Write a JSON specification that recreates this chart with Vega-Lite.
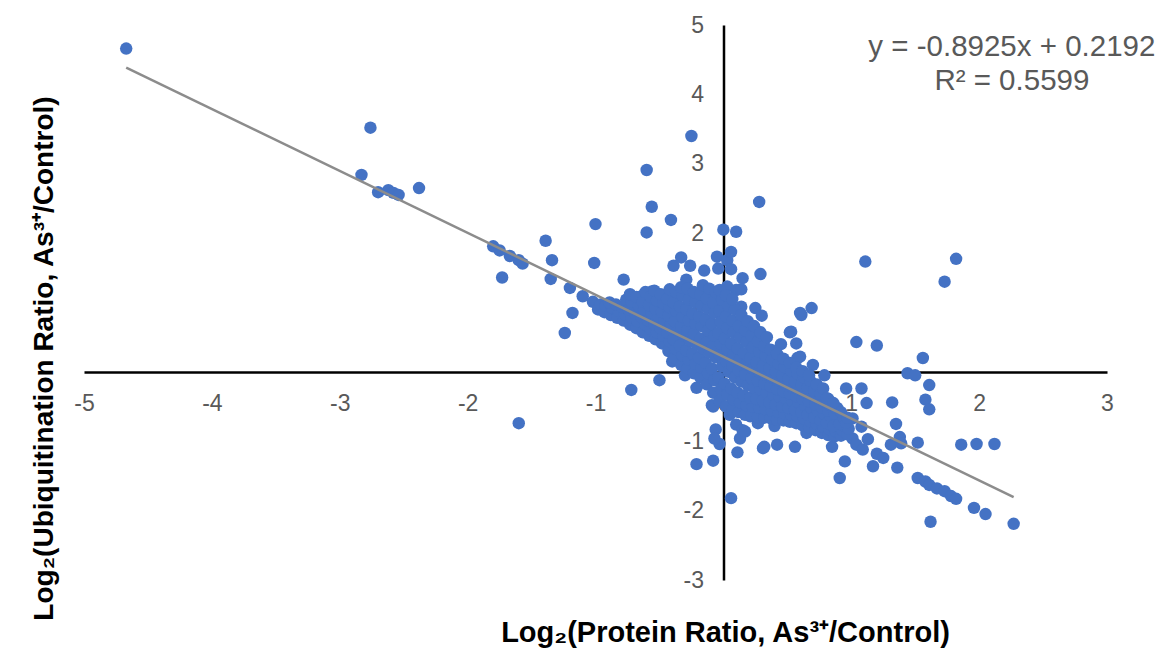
{
  "$schema": "https://vega.github.io/schema/vega-lite/v6.json",
  "width": 1023,
  "height": 555,
  "autosize": {"type": "none"},
  "padding": {"left": 84, "top": 25, "right": 56, "bottom": 76},
  "background": "white",
  "config": {"view": {"stroke": null}, "font": "Liberation Sans"},
  "datasets": {
    "trend": [{"x": -4.67, "y": 4.387}, {"x": 2.27, "y": -1.807}],
    "eq": [{"tx": 2.256, "ty": 4.676, "label": "y = -0.8925x + 0.2192"}, {"tx": 2.256, "ty": 4.19, "label": "R² = 0.5599"}],
    "pts": [
{"x":-4.67,"y":4.66},{"x":-2.76,"y":3.52},{"x":-2.83,"y":2.84},{"x":-2.70,"y":2.59},{"x":-2.62,"y":2.62},{"x":-2.58,"y":2.58},{"x":-2.54,"y":2.55},{"x":-2.38,"y":2.65},{"x":-1.80,"y":1.81},{"x":-1.75,"y":1.75},{"x":-1.67,"y":1.67},{"x":-1.60,"y":1.61},{"x":-1.57,"y":1.56},{"x":-1.73,"y":1.36},{"x":-1.39,"y":1.89},{"x":-1.34,"y":1.61},{"x":-1.35,"y":1.34},{"x":-1.00,"y":2.13},{"x":-1.01,"y":1.57},{"x":-1.20,"y":1.21},{"x":-1.18,"y":0.85},{"x":-1.24,"y":0.56},{"x":-1.10,"y":1.09},{"x":-1.02,"y":1.01},{"x":-0.97,"y":0.94},{"x":-0.90,"y":0.89},{"x":-0.84,"y":0.82},{"x":-0.78,"y":1.33},{"x":-0.60,"y":2.01},{"x":-0.56,"y":2.38},{"x":-0.41,"y":2.19},{"x":-0.39,"y":1.53},{"x":-0.64,"y":1.09},{"x":-0.56,"y":1.13},{"x":-0.50,"y":0.87},{"x":-0.72,"y":-0.26},{"x":-0.50,"y":-0.12},{"x":-1.60,"y":-0.74},{"x":-0.40,"y":0.15},{"x":-0.60,"y":2.91},{"x":-0.25,"y":3.40},{"x":0.00,"y":2.05},{"x":0.10,"y":2.02},{"x":-0.33,"y":1.65},{"x":-0.26,"y":1.53},{"x":-0.15,"y":1.46},{"x":-0.05,"y":1.66},{"x":0.03,"y":1.61},{"x":-0.04,"y":1.49},{"x":-0.29,"y":1.33},{"x":-0.56,"y":1.16},{"x":-0.37,"y":1.06},{"x":-0.21,"y":1.11},{"x":0.03,"y":1.23},{"x":0.10,"y":1.18},{"x":0.28,"y":2.45},{"x":0.06,"y":1.73},{"x":0.06,"y":1.48},{"x":0.15,"y":1.35},{"x":0.29,"y":1.41},{"x":0.14,"y":1.19},{"x":0.14,"y":0.94},{"x":0.25,"y":0.92},{"x":0.30,"y":0.81},{"x":0.61,"y":0.82},{"x":0.69,"y":0.92},{"x":0.60,"y":0.85},{"x":1.11,"y":1.59},{"x":0.52,"y":0.57},{"x":0.57,"y":0.41},{"x":0.58,"y":0.20},{"x":1.04,"y":0.43},{"x":0.79,"y":-0.05},{"x":0.96,"y":-0.24},{"x":1.08,"y":-0.24},{"x":0.82,"y":-0.39},{"x":0.89,"y":-0.52},{"x":1.01,"y":-0.67},{"x":1.08,"y":-0.79},{"x":0.10,"y":-0.76},{"x":0.15,"y":-0.84},{"x":0.27,"y":-0.74},{"x":0.32,"y":-1.08},{"x":0.42,"y":-1.05},{"x":0.56,"y":-1.08},{"x":0.85,"y":-1.08},{"x":1.01,"y":-0.96},{"x":1.82,"y":1.63},{"x":1.73,"y":1.30},{"x":1.20,"y":0.38},{"x":1.56,"y":0.20},{"x":1.44,"y":-0.02},{"x":1.50,"y":-0.05},{"x":1.61,"y":-0.19},{"x":1.12,"y":-0.45},{"x":1.32,"y":-0.44},{"x":1.58,"y":-0.40},{"x":1.61,"y":-0.54},{"x":-0.06,"y":-0.83},{"x":-0.03,"y":-1.04},{"x":-0.08,"y":-1.28},{"x":-0.21,"y":-1.33},{"x":0.06,"y":-1.82},{"x":0.11,"y":-1.16},{"x":0.13,"y":-0.96},{"x":0.17,"y":-0.86},{"x":0.31,"y":-1.10},{"x":0.95,"y":-1.29},{"x":0.91,"y":-1.53},{"x":1.04,"y":-1.05},{"x":1.09,"y":-1.12},{"x":1.13,"y":-0.97},{"x":1.20,"y":-1.18},{"x":1.25,"y":-1.24},{"x":1.17,"y":-1.36},{"x":1.36,"y":-1.38},{"x":1.31,"y":-1.05},{"x":1.38,"y":-0.94},{"x":1.39,"y":-1.03},{"x":1.52,"y":-1.02},{"x":1.35,"y":-0.75},{"x":1.52,"y":-1.53},{"x":1.58,"y":-1.58},{"x":1.61,"y":-1.63},{"x":1.67,"y":-1.68},{"x":1.73,"y":-1.72},{"x":1.78,"y":-1.79},{"x":1.82,"y":-1.83},{"x":1.62,"y":-2.16},{"x":1.96,"y":-1.96},{"x":2.05,"y":-2.05},{"x":2.27,"y":-2.19},{"x":1.86,"y":-1.05},{"x":1.98,"y":-1.04},{"x":2.12,"y":-1.04},{"x":-0.09,"y":-0.48},{"x":0.53,"y":0.58},{"x":0.32,"y":0.46},{"x":0.18,"y":0.58},{"x":-0.55,"y":1.11},{"x":-0.39,"y":1.09},{"x":-0.08,"y":-0.50},{"x":-0.07,"y":-0.96},{"x":-0.39,"y":0.17},{"x":-0.21,"y":-0.23},{"x":0.21,"y":-0.64},{"x":0.60,"y":0.22},{"x":0.45,"y":0.40},{"x":-0.30,"y":-0.05},{"x":0.40,"y":-0.78},{"x":0.65,"y":-0.88},{"x":0.05,"y":-0.62},{"x":0.70,"y":0.10},
{"x":-0.98,"y":0.90},{"x":-0.96,"y":0.97},
{"x":-0.93,"y":0.86},{"x":-0.92,"y":0.95},
{"x":-0.88,"y":0.82},{"x":-0.87,"y":0.92},{"x":-0.89,"y":1.00},
{"x":-0.83,"y":0.78},{"x":-0.82,"y":0.88},{"x":-0.84,"y":0.97},
{"x":-0.78,"y":0.74},{"x":-0.77,"y":0.83},{"x":-0.79,"y":0.93},{"x":-0.76,"y":1.04},
{"x":-0.73,"y":0.68},{"x":-0.72,"y":0.79},{"x":-0.74,"y":0.90},{"x":-0.72,"y":1.01},{"x":-0.73,"y":1.12},
{"x":-0.68,"y":0.63},{"x":-0.67,"y":0.73},{"x":-0.69,"y":0.84},{"x":-0.66,"y":0.95},{"x":-0.68,"y":1.08},
{"x":-0.63,"y":0.57},{"x":-0.61,"y":0.68},{"x":-0.64,"y":0.79},{"x":-0.62,"y":0.90},{"x":-0.63,"y":1.01},{"x":-0.61,"y":1.15},
{"x":-0.58,"y":0.52},{"x":-0.57,"y":0.62},{"x":-0.59,"y":0.74},{"x":-0.56,"y":0.85},{"x":-0.58,"y":0.96},{"x":-0.57,"y":1.08},
{"x":-0.53,"y":0.47},{"x":-0.52,"y":0.57},{"x":-0.54,"y":0.69},{"x":-0.51,"y":0.80},{"x":-0.53,"y":0.91},{"x":-0.52,"y":1.03},{"x":-0.54,"y":1.17},
{"x":-0.48,"y":0.41},{"x":-0.47,"y":0.52},{"x":-0.49,"y":0.63},{"x":-0.46,"y":0.75},{"x":-0.48,"y":0.86},{"x":-0.47,"y":0.99},{"x":-0.49,"y":1.12},
{"x":-0.43,"y":0.30},{"x":-0.42,"y":0.44},{"x":-0.44,"y":0.57},{"x":-0.41,"y":0.70},{"x":-0.43,"y":0.81},{"x":-0.42,"y":0.93},{"x":-0.44,"y":1.05},{"x":-0.42,"y":1.19},
{"x":-0.38,"y":0.20},{"x":-0.37,"y":0.33},{"x":-0.39,"y":0.47},{"x":-0.36,"y":0.60},{"x":-0.38,"y":0.73},{"x":-0.37,"y":0.88},{"x":-0.39,"y":1.00},{"x":-0.37,"y":1.15},
{"x":-0.33,"y":0.10},{"x":-0.32,"y":0.24},{"x":-0.34,"y":0.38},{"x":-0.31,"y":0.52},{"x":-0.33,"y":0.66},{"x":-0.32,"y":0.79},{"x":-0.34,"y":0.94},{"x":-0.32,"y":1.10},{"x":-0.33,"y":1.22},
{"x":-0.28,"y":0.05},{"x":-0.27,"y":0.18},{"x":-0.29,"y":0.31},{"x":-0.26,"y":0.45},{"x":-0.28,"y":0.60},{"x":-0.27,"y":0.74},{"x":-0.29,"y":0.90},{"x":-0.27,"y":1.04},{"x":-0.28,"y":1.20},
{"x":-0.23,"y":-0.02},{"x":-0.22,"y":0.12},{"x":-0.24,"y":0.26},{"x":-0.21,"y":0.40},{"x":-0.23,"y":0.55},{"x":-0.22,"y":0.70},{"x":-0.24,"y":0.84},{"x":-0.22,"y":1.00},{"x":-0.23,"y":1.15},
{"x":-0.18,"y":-0.08},{"x":-0.17,"y":0.06},{"x":-0.19,"y":0.20},{"x":-0.16,"y":0.34},{"x":-0.18,"y":0.48},{"x":-0.17,"y":0.66},{"x":-0.19,"y":0.80},{"x":-0.17,"y":0.95},{"x":-0.18,"y":1.12},{"x":-0.16,"y":1.25},
{"x":-0.13,"y":-0.18},{"x":-0.12,"y":-0.02},{"x":-0.14,"y":0.13},{"x":-0.11,"y":0.28},{"x":-0.13,"y":0.43},{"x":-0.12,"y":0.59},{"x":-0.14,"y":0.75},{"x":-0.12,"y":0.91},{"x":-0.13,"y":1.06},{"x":-0.11,"y":1.20},
{"x":-0.08,"y":-0.30},{"x":-0.07,"y":-0.12},{"x":-0.09,"y":0.05},{"x":-0.06,"y":0.21},{"x":-0.08,"y":0.37},{"x":-0.07,"y":0.52},{"x":-0.09,"y":0.69},{"x":-0.07,"y":0.85},{"x":-0.08,"y":1.00},{"x":-0.06,"y":1.15},
{"x":-0.03,"y":-0.42},{"x":-0.02,"y":-0.25},{"x":-0.04,"y":-0.08},{"x":-0.01,"y":0.08},{"x":-0.03,"y":0.25},{"x":-0.02,"y":0.40},{"x":-0.04,"y":0.56},{"x":-0.02,"y":0.72},{"x":-0.03,"y":0.88},{"x":-0.01,"y":1.04},{"x":-0.03,"y":1.18},
{"x":0.02,"y":-0.50},{"x":0.03,"y":-0.33},{"x":0.01,"y":-0.17},{"x":0.04,"y":0.00},{"x":0.02,"y":0.16},{"x":0.03,"y":0.33},{"x":0.01,"y":0.48},{"x":0.03,"y":0.63},{"x":0.02,"y":0.80},{"x":0.04,"y":0.95},{"x":0.02,"y":1.10},
{"x":0.07,"y":-0.55},{"x":0.08,"y":-0.40},{"x":0.06,"y":-0.24},{"x":0.09,"y":-0.08},{"x":0.07,"y":0.09},{"x":0.08,"y":0.25},{"x":0.06,"y":0.41},{"x":0.08,"y":0.57},{"x":0.07,"y":0.74},{"x":0.09,"y":0.90},{"x":0.07,"y":1.05},
{"x":0.12,"y":-0.58},{"x":0.13,"y":-0.44},{"x":0.11,"y":-0.30},{"x":0.14,"y":-0.14},{"x":0.12,"y":0.02},{"x":0.13,"y":0.18},{"x":0.11,"y":0.34},{"x":0.13,"y":0.50},{"x":0.12,"y":0.66},{"x":0.14,"y":0.82},
{"x":0.17,"y":-0.62},{"x":0.18,"y":-0.48},{"x":0.16,"y":-0.34},{"x":0.19,"y":-0.19},{"x":0.17,"y":-0.04},{"x":0.18,"y":0.11},{"x":0.16,"y":0.27},{"x":0.18,"y":0.43},{"x":0.17,"y":0.60},{"x":0.19,"y":0.73},
{"x":0.22,"y":-0.63},{"x":0.23,"y":-0.50},{"x":0.21,"y":-0.37},{"x":0.24,"y":-0.23},{"x":0.22,"y":-0.09},{"x":0.23,"y":0.05},{"x":0.21,"y":0.20},{"x":0.23,"y":0.35},{"x":0.22,"y":0.52},{"x":0.24,"y":0.66},
{"x":0.27,"y":-0.65},{"x":0.28,"y":-0.52},{"x":0.26,"y":-0.39},{"x":0.29,"y":-0.26},{"x":0.27,"y":-0.13},{"x":0.28,"y":0.00},{"x":0.26,"y":0.14},{"x":0.28,"y":0.29},{"x":0.27,"y":0.44},{"x":0.29,"y":0.57},
{"x":0.32,"y":-0.66},{"x":0.33,"y":-0.54},{"x":0.31,"y":-0.42},{"x":0.34,"y":-0.30},{"x":0.32,"y":-0.17},{"x":0.33,"y":-0.04},{"x":0.31,"y":0.09},{"x":0.33,"y":0.23},{"x":0.32,"y":0.37},{"x":0.34,"y":0.50},
{"x":0.37,"y":-0.67},{"x":0.38,"y":-0.56},{"x":0.36,"y":-0.44},{"x":0.39,"y":-0.33},{"x":0.37,"y":-0.21},{"x":0.38,"y":-0.08},{"x":0.36,"y":0.05},{"x":0.38,"y":0.18},{"x":0.37,"y":0.32},
{"x":0.42,"y":-0.69},{"x":0.43,"y":-0.58},{"x":0.41,"y":-0.47},{"x":0.44,"y":-0.36},{"x":0.42,"y":-0.25},{"x":0.43,"y":-0.13},{"x":0.41,"y":0.00},{"x":0.43,"y":0.12},{"x":0.42,"y":0.26},
{"x":0.47,"y":-0.70},{"x":0.48,"y":-0.60},{"x":0.46,"y":-0.50},{"x":0.49,"y":-0.39},{"x":0.47,"y":-0.28},{"x":0.48,"y":-0.17},{"x":0.46,"y":-0.05},{"x":0.48,"y":0.07},{"x":0.47,"y":0.19},
{"x":0.52,"y":-0.72},{"x":0.53,"y":-0.62},{"x":0.51,"y":-0.52},{"x":0.54,"y":-0.42},{"x":0.52,"y":-0.31},{"x":0.53,"y":-0.21},{"x":0.51,"y":-0.10},{"x":0.53,"y":0.02},{"x":0.52,"y":0.13},
{"x":0.57,"y":-0.74},{"x":0.58,"y":-0.64},{"x":0.56,"y":-0.55},{"x":0.59,"y":-0.45},{"x":0.57,"y":-0.35},{"x":0.58,"y":-0.25},{"x":0.56,"y":-0.14},{"x":0.58,"y":-0.03},{"x":0.57,"y":0.06},
{"x":0.62,"y":-0.77},{"x":0.63,"y":-0.67},{"x":0.61,"y":-0.58},{"x":0.64,"y":-0.49},{"x":0.62,"y":-0.39},{"x":0.63,"y":-0.29},{"x":0.61,"y":-0.19},{"x":0.63,"y":-0.08},{"x":0.62,"y":0.01},
{"x":0.67,"y":-0.80},{"x":0.68,"y":-0.71},{"x":0.66,"y":-0.62},{"x":0.69,"y":-0.53},{"x":0.67,"y":-0.43},{"x":0.68,"y":-0.33},{"x":0.66,"y":-0.23},{"x":0.68,"y":-0.13},{"x":0.67,"y":-0.05},
{"x":0.72,"y":-0.84},{"x":0.73,"y":-0.75},{"x":0.71,"y":-0.66},{"x":0.74,"y":-0.57},{"x":0.72,"y":-0.47},{"x":0.73,"y":-0.37},{"x":0.71,"y":-0.27},{"x":0.73,"y":-0.18},
{"x":0.77,"y":-0.88},{"x":0.78,"y":-0.79},{"x":0.76,"y":-0.70},{"x":0.79,"y":-0.61},{"x":0.77,"y":-0.51},{"x":0.78,"y":-0.42},{"x":0.76,"y":-0.32},{"x":0.78,"y":-0.24},
{"x":0.82,"y":-0.91},{"x":0.83,"y":-0.83},{"x":0.81,"y":-0.74},{"x":0.84,"y":-0.65},{"x":0.82,"y":-0.56},{"x":0.83,"y":-0.47},{"x":0.81,"y":-0.38},
{"x":0.87,"y":-0.93},{"x":0.88,"y":-0.86},{"x":0.86,"y":-0.78},{"x":0.89,"y":-0.69},{"x":0.87,"y":-0.60},{"x":0.88,"y":-0.52},{"x":0.86,"y":-0.45},
{"x":0.92,"y":-0.92},{"x":0.93,"y":-0.84},{"x":0.91,"y":-0.75},{"x":0.94,"y":-0.66},{"x":0.92,"y":-0.58},
{"x":0.97,"y":-0.90},{"x":0.98,"y":-0.82},{"x":0.96,"y":-0.73},{"x":0.97,"y":-0.66}
    ]
  },
  "layer": [
    {
      "data": {"name": "pts"},
      "mark": {"type": "point", "filled": true, "size": 155, "color": "#4472C4", "opacity": 1},
      "encoding": {
        "x": {
          "field": "x", "type": "quantitative",
          "scale": {"domain": [-5, 3], "nice": false, "zero": false},
          "axis": {
            "values": [-5, -4, -3, -2, -1, 0, 1, 2, 3],
            "labelExpr": "'' + datum.value",
            "offset": -208,
            "grid": false, "ticks": false, "tickSize": 0,
            "domainColor": "#000000", "domainWidth": 2.5,
            "labelColor": "#595959", "labelFont": "Liberation Sans", "labelFontSize": 23,
            "labelPadding": 20, "labelFlush": false, "labelOverlap": false,
            "title": "Log₂(Protein Ratio, As³⁺/Control)",
            "titleFont": "Liberation Sans", "titleFontWeight": "bold", "titleFontSize": 29, "titleColor": "#000000",
            "titleX": 641, "titleY": 269, "titleBaseline": "alphabetic", "titleAlign": "center"
          }
        },
        "y": {
          "field": "y", "type": "quantitative",
          "scale": {"domain": [-3, 5], "nice": false, "zero": false},
          "axis": {
            "values": [-3, -2, -1, 0, 1, 2, 3, 4, 5],
            "labelExpr": "'' + datum.value",
            "offset": -639.5,
            "grid": false, "ticks": false, "tickSize": 0,
            "domainColor": "#000000", "domainWidth": 2.5,
            "labelColor": "#595959", "labelFont": "Liberation Sans", "labelFontSize": 23,
            "labelPadding": 20, "labelFlush": false, "labelOverlap": false,
            "title": "Log₂(Ubiquitination Ratio, As³⁺/Control)",
            "titleFont": "Liberation Sans", "titleFontWeight": "bold", "titleFontSize": 28, "titleColor": "#000000",
            "titleX": -671.5, "titleY": 333, "titleAngle": -90, "titleBaseline": "alphabetic", "titleAlign": "center"
          }
        }
      }
    },
    {
      "data": {"name": "trend"},
      "mark": {"type": "line", "color": "#8C8C8C", "strokeWidth": 2.5},
      "encoding": {
        "x": {"field": "x", "type": "quantitative"},
        "y": {"field": "y", "type": "quantitative"}
      }
    },
    {
      "data": {"name": "eq"},
      "mark": {"type": "text", "fontSize": 29.5, "color": "#595959", "font": "Liberation Sans", "align": "center", "baseline": "middle"},
      "encoding": {
        "x": {"field": "tx", "type": "quantitative"},
        "y": {"field": "ty", "type": "quantitative"},
        "text": {"field": "label"}
      }
    }
  ]
}
